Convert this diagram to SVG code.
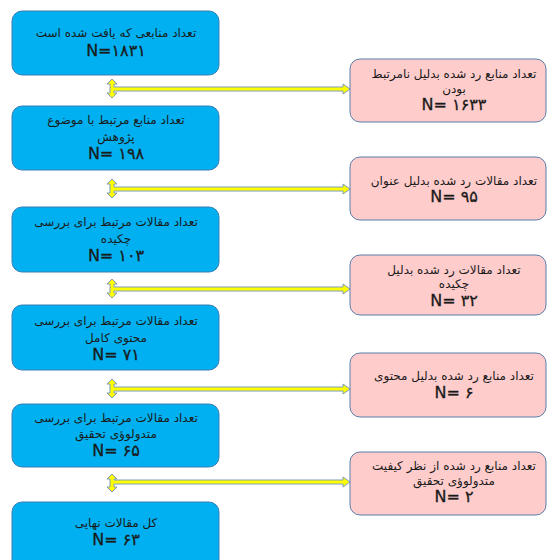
<svg xmlns="http://www.w3.org/2000/svg" width="548" height="560" viewBox="0 0 548 560">
<style>
.blue{fill:#00B0F0;stroke:#3A7FB5;stroke-width:1}
.pink{fill:#FFCCCC;stroke:#5A7FA8;stroke-width:1}
.arr{fill:#FFFF00;stroke:#7F9CB8;stroke-width:1}
text{font-family:"DejaVu Sans","Noto Sans",sans-serif;fill:#1a1a1a;text-anchor:middle}
.t{font-size:12px}
.n{font-size:16px;font-family:"DejaVu Sans","Noto Sans",sans-serif;stroke:#1a1a1a;stroke-width:0.3}
</style>
<rect width="548" height="560" fill="#ffffff"/>
<g id="connectors">
<path class="arr" d="M112,79 L117,84 L114,84 L114,87 L343,87 L343,84 L350,89 L343,94 L343,91 L114,91 L114,93 L117,93 L112,98 L107,93 L110,93 L110,84 L107,84 Z"/>
<path class="arr" d="M112,179 L117,184 L114,184 L114,187 L343,187 L343,184 L350,189 L343,194 L343,191 L114,191 L114,193 L117,193 L112,198 L107,193 L110,193 L110,184 L107,184 Z"/>
<path class="arr" d="M112,279 L117,284 L114,284 L114,287 L343,287 L343,284 L350,289 L343,294 L343,291 L114,291 L114,293 L117,293 L112,298 L107,293 L110,293 L110,284 L107,284 Z"/>
<path class="arr" d="M112,379 L117,384 L114,384 L114,387 L343,387 L343,384 L350,389 L343,394 L343,391 L114,391 L114,393 L117,393 L112,398 L107,393 L110,393 L110,384 L107,384 Z"/>
<path class="arr" d="M112,474 L117,479 L114,479 L114,480 L343,480 L343,477 L350,482 L343,487 L343,484 L114,484 L114,487 L117,487 L112,492 L107,487 L110,487 L110,479 L107,479 Z"/>
</g>
<g id="b1"><rect class="blue" x="12" y="11" width="207" height="64" rx="10"/>
<text class="t" x="116" y="37" direction="rtl">تعداد منابعی که یافت شده است</text>
<text class="n" x="116" y="56">N=۱۸۳۱</text></g>
<g id="b2"><rect class="blue" x="12" y="106" width="207" height="64" rx="10"/>
<text class="t" x="116" y="124" direction="rtl">تعداد منابع مرتبط با موضوع</text>
<text class="t" x="116" y="141" direction="rtl">پژوهش</text>
<text class="n" x="116" y="159">N= ۱۹۸</text></g>
<g id="b3"><rect class="blue" x="12" y="207" width="207" height="65" rx="10"/>
<text class="t" x="116" y="226" direction="rtl">تعداد مقالات مرتبط برای بررسی</text>
<text class="t" x="116" y="243" direction="rtl">چکیده</text>
<text class="n" x="116" y="261">N= ۱۰۳</text></g>
<g id="b4"><rect class="blue" x="12" y="305" width="207" height="65" rx="10"/>
<text class="t" x="116" y="325" direction="rtl">تعداد مقالات مرتبط برای بررسی</text>
<text class="t" x="116" y="342" direction="rtl">محتوی کامل</text>
<text class="n" x="116" y="360">N= ۷۱</text></g>
<g id="b5"><rect class="blue" x="12" y="404" width="207" height="63" rx="10"/>
<text class="t" x="116" y="422" direction="rtl">تعداد مقالات مرتبط برای بررسی</text>
<text class="t" x="116" y="438" direction="rtl">متدولوؤی تحقیق</text>
<text class="n" x="116" y="456">N= ۶۵</text></g>
<g id="b6"><rect class="blue" x="12" y="502" width="207" height="70" rx="10"/>
<text class="t" x="116" y="527" direction="rtl">کل مقالات نهایی</text>
<text class="n" x="116" y="545">N= ۶۳</text></g>
<g id="p1"><rect class="pink" x="350" y="59" width="196" height="63" rx="10"/>
<text class="t" x="454" y="78" direction="rtl">تعداد منابع رد شده بدلیل نامرتبط</text>
<text class="t" x="454" y="93" direction="rtl">بودن</text>
<text class="n" x="454" y="110">N= ۱۶۳۳</text></g>
<g id="p2"><rect class="pink" x="350" y="157" width="196" height="63" rx="10"/>
<text class="t" x="454" y="185" direction="rtl">تعداد مقالات رد شده بدلیل عنوان</text>
<text class="n" x="454" y="202">N= ۹۵</text></g>
<g id="p3"><rect class="pink" x="350" y="255" width="196" height="60" rx="10"/>
<text class="t" x="454" y="274" direction="rtl">تعداد مقالات رد شده بدلیل</text>
<text class="t" x="454" y="288" direction="rtl">چکیده</text>
<text class="n" x="454" y="306">N= ۳۲</text></g>
<g id="p4"><rect class="pink" x="350" y="353" width="196" height="64" rx="10"/>
<text class="t" x="454" y="380" direction="rtl">تعداد منابع رد شده بدلیل محتوی</text>
<text class="n" x="454" y="398">N= ۶</text></g>
<g id="p5"><rect class="pink" x="350" y="452" width="196" height="63" rx="10"/>
<text class="t" x="454" y="470" direction="rtl">تعداد منابع رد شده از نظر کیفیت</text>
<text class="t" x="454" y="485" direction="rtl">متدولوؤی تحقیق</text>
<text class="n" x="454" y="502">N= ۲</text></g>
</svg>
